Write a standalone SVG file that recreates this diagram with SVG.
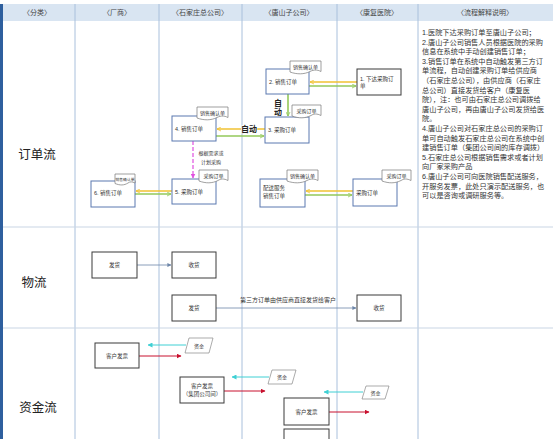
<svg xmlns="http://www.w3.org/2000/svg" xmlns:xlink="http://www.w3.org/1999/xlink" width="553" height="439" viewBox="0 0 553 439">
<style>
text{font-family:'Liberation Sans','Noto Sans CJK SC',sans-serif;fill:#333}
.hd{font-size:7px;text-anchor:middle;fill:#444}
.row{font-size:12.5px;text-anchor:middle;fill:#222}
.bx{fill:#fff;stroke:#5a78b0;stroke-width:1}
.bk{fill:#fff;stroke:#3a3a3a;stroke-width:1}
.tag{fill:#fff;stroke:#777;stroke-width:0.7}
.t{font-size:5.5px}
.tg{font-size:5px}
.c{text-anchor:middle}
.ex{font-size:7.2px;fill:#333}
.lane{stroke:#a9c0dc;stroke-width:1}
.hl{stroke:#c9d5e4;stroke-width:1}
.yl{stroke:#f1c232;stroke-width:1.6;fill:none}
.gr{stroke:#93c95a;stroke-width:1.6;fill:none}
.pk{stroke:#e050e0;stroke-width:1.2;stroke-dasharray:4 2;fill:none}
.lg{stroke:#6d86a8;stroke-width:0.8;fill:none}
.rd{stroke:#c8102e;stroke-width:1;fill:none}
.cy{stroke:#3fd0d4;stroke-width:1;fill:none}
.au{font-size:8px;font-weight:bold;fill:#222}
.para{fill:#fff;stroke:#888;stroke-width:0.7}
</style>
<defs>
<marker id="aY" viewBox="0 0 10 10" refX="9" refY="5" markerWidth="5" markerHeight="5" orient="auto-start-reverse" markerUnits="userSpaceOnUse"><path d="M1,1 L9,5 L1,9" fill="none" stroke="#f1c232" stroke-width="1.6"/></marker>
<marker id="aG" viewBox="0 0 10 10" refX="9" refY="5" markerWidth="5" markerHeight="5" orient="auto-start-reverse" markerUnits="userSpaceOnUse"><path d="M1,1 L9,5 L1,9" fill="none" stroke="#93c95a" stroke-width="1.6"/></marker>
<marker id="aP" viewBox="0 0 10 10" refX="9" refY="5" markerWidth="5" markerHeight="5" orient="auto" markerUnits="userSpaceOnUse"><path d="M0,0 L10,5 L0,10 Z" fill="#e050e0"/></marker>
<marker id="aL" viewBox="0 0 10 10" refX="9" refY="5" markerWidth="4" markerHeight="4" orient="auto" markerUnits="userSpaceOnUse"><path d="M0,0 L10,5 L0,10 Z" fill="#6d86a8"/></marker>
<marker id="aR" viewBox="0 0 10 10" refX="9" refY="5" markerWidth="5" markerHeight="5" orient="auto" markerUnits="userSpaceOnUse"><path d="M0,0 L10,5 L0,10 Z" fill="#c8102e"/></marker>
<marker id="aC" viewBox="0 0 10 10" refX="9" refY="5" markerWidth="5" markerHeight="5" orient="auto" markerUnits="userSpaceOnUse"><path d="M0,0 L10,5 L0,10 Z" fill="#3fd0d4"/></marker>
<path id="docW" d="M0,0 H31 V10.5 C27,8.5 24,8.5 20,10.5 C14,13.5 7,13.5 0,11 Z"/>
<path id="docN" d="M0,0 H29 V10.5 C25,8.5 22,8.5 19,10.5 C13,13.5 7,13.5 0,11 Z"/>
<path id="docS" d="M0,0 H20 V9 C17,7.5 15,7.5 13,9 C9,11.5 5,11.5 0,9.5 Z"/>
</defs>
<rect x="0" y="0" width="553" height="439" fill="#fff"/>
<g id="frame">
<rect x="0" y="4" width="553" height="17" fill="#d9e5f2"/>
<rect x="0" y="4" width="3" height="435" fill="#2e5f9e"/>
<g class="lane">
<line x1="75" y1="4" x2="75" y2="439"/>
<line x1="159" y1="4" x2="159" y2="439"/>
<line x1="242" y1="4" x2="242" y2="439"/>
<line x1="337" y1="4" x2="337" y2="439"/>
<line x1="418" y1="4" x2="418" y2="439"/>
</g>
<g class="hl">
<line x1="3" y1="227" x2="553" y2="227"/>
<line x1="3" y1="328" x2="553" y2="328"/>
</g>
<text class="hd" x="37" y="15">〈分类〉</text>
<text class="hd" x="117" y="15">〈厂商〉</text>
<text class="hd" x="200" y="15">〈石家庄总公司〉</text>
<text class="hd" x="289" y="15">〈唐山子公司〉</text>
<text class="hd" x="377" y="15">〈康复医院〉</text>
<text class="hd" x="485" y="15">〈流程解释说明〉</text>
<text class="row" x="37" y="159">订单流</text>
<text class="row" x="34" y="287">物流</text>
<text class="row" x="38" y="412">资金流</text>
</g>
<g id="connectors">
<line class="yl" x1="357" y1="82" x2="310" y2="82" marker-end="url(#aY)"/>
<line class="gr" x1="309" y1="86" x2="356" y2="86" marker-end="url(#aG)"/>
<line class="gr" x1="288" y1="94" x2="288" y2="116" marker-end="url(#aG)"/>
<line class="yl" x1="265" y1="129" x2="217" y2="129" marker-end="url(#aY)"/>
<line class="gr" x1="216" y1="136" x2="264" y2="136" marker-end="url(#aG)"/>
<line class="pk" x1="193" y1="141" x2="193" y2="178" marker-end="url(#aP)"/>
<line class="yl" x1="172" y1="191" x2="136" y2="191" marker-end="url(#aY)"/>
<line class="gr" x1="135" y1="194" x2="171" y2="194" marker-end="url(#aG)"/>
<line class="yl" x1="353" y1="191" x2="306" y2="191" marker-end="url(#aY)"/>
<line class="gr" x1="305" y1="195" x2="352" y2="195" marker-end="url(#aG)"/>
<text class="au" x="278" y="106" text-anchor="middle">自</text>
<text class="au" x="278" y="115" text-anchor="middle">动</text>
<text class="au" x="249" y="132" text-anchor="middle" stroke="#fff" stroke-width="1.5" paint-order="stroke">自动</text>
<text class="tg" x="211" y="155" text-anchor="middle">根据需求或</text>
<text class="tg" x="211" y="164" text-anchor="middle">计划采购</text>
<line class="lg" x1="137" y1="265" x2="171" y2="265" marker-end="url(#aL)"/>
<line class="lg" x1="216" y1="308" x2="356" y2="308" marker-end="url(#aL)"/>
<text x="288" y="302" font-size="6px" text-anchor="middle">第三方订单由供应商直接发货给客户</text>
<line class="rd" x1="139" y1="356" x2="181" y2="356" marker-end="url(#aR)"/>
<line class="cy" x1="186" y1="345" x2="148" y2="345" marker-end="url(#aC)"/>
<line class="rd" x1="224" y1="391" x2="265" y2="391" marker-end="url(#aR)"/>
<line class="cy" x1="269" y1="377" x2="232" y2="377" marker-end="url(#aC)"/>
<line class="rd" x1="329" y1="412" x2="369" y2="412" marker-end="url(#aR)"/>
<line class="cy" x1="363" y1="392" x2="324" y2="392" marker-end="url(#aC)"/>
</g>
<g id="n1"><rect class="bk" x="357" y="69" width="44" height="26"/><text class="t" x="360" y="81">1. 下达采购订</text><text class="t" x="360" y="88">单</text></g>
<g id="n2"><rect class="bx" x="266" y="69" width="43" height="25"/><text class="t" x="269" y="84">2. 销售订单</text><use xlink:href="#docW" class="tag" x="290" y="61"/><text class="tg" x="305.5" y="68.5" text-anchor="middle">销售确认单</text></g>
<g id="n3"><rect class="bx" x="265" y="117" width="44" height="26"/><text class="t" x="268" y="132">3. 采购订单</text><use xlink:href="#docN" class="tag" x="292" y="105"/><text class="tg" x="306.5" y="112.5" text-anchor="middle">采购订单</text></g>
<g id="n4"><rect class="bx" x="172" y="116" width="44" height="25"/><text class="t" x="175" y="131">4. 销售订单</text><use xlink:href="#docW" class="tag" x="197" y="107"/><text class="tg" x="212.5" y="114.5" text-anchor="middle">销售确认单</text></g>
<g id="n5"><rect class="bx" x="172" y="179" width="44" height="25"/><text class="t" x="175" y="194">5. 采购订单</text><use xlink:href="#docN" class="tag" x="199" y="170"/><text class="tg" x="213.5" y="177.5" text-anchor="middle">采购订单</text></g>
<g id="n6"><rect class="bx" x="91" y="181" width="44" height="26"/><text class="t" x="94" y="195">6. 销售订单</text><use xlink:href="#docS" class="tag" x="115" y="174"/><text x="125" y="180.5" font-size="3.8px" text-anchor="middle">销售确认单</text></g>
<g id="n7"><rect class="bx" x="260" y="179" width="45" height="28"/><text class="t" x="263" y="190">配送服务</text><text class="t" x="263" y="198">销售订单</text><use xlink:href="#docW" class="tag" x="287" y="170"/><text class="tg" x="302.5" y="177.5" text-anchor="middle">销售确认单</text></g>
<g id="n8"><rect class="bx" x="353" y="179" width="44" height="27"/><text class="t" x="356" y="195">采购订单</text><use xlink:href="#docN" class="tag" x="382" y="170"/><text class="tg" x="396.5" y="177.5" text-anchor="middle">采购订单</text></g>
<g id="l1"><rect class="bk" x="92" y="252" width="45" height="26"/><text class="t c" x="114.5" y="267">发货</text></g>
<g id="l2"><rect class="bk" x="172" y="252" width="44" height="26"/><text class="t c" x="194" y="267">收货</text></g>
<g id="l3"><rect class="bk" x="172" y="295" width="44" height="26"/><text class="t c" x="194" y="310">发货</text></g>
<g id="l4"><rect class="bk" x="357" y="295" width="44" height="26"/><text class="t c" x="379" y="310">收货</text></g>
<g id="f1"><rect class="bk" x="95" y="343" width="44" height="25"/><text class="t c" x="117" y="357.5">客户发票</text></g>
<g id="f2"><polygon class="para" points="189,338 213,338 209,353 185,353"/><text class="tg c" x="199" y="347.5">资金</text></g>
<g id="f3"><rect class="bk" x="180" y="377" width="44" height="26"/><text class="t c" x="202" y="388">客户发票</text><text class="t c" x="202" y="396">（集团公司间）</text></g>
<g id="f4"><polygon class="para" points="272,370 296,370 292,384 268,384"/><text class="tg c" x="282" y="379">资金</text></g>
<g id="f5"><rect class="bk" x="284" y="398" width="45" height="27"/><text class="t c" x="306.5" y="413.5">客户发票</text></g>
<g id="f6"><polygon class="para" points="366,386 389,386 385,399 362,399"/><text class="tg c" x="375.5" y="394.5">资金</text></g>
<g id="f7"><rect class="bk" x="284" y="429" width="45" height="20"/></g>
<g id="notes" class="ex">
<text class="ex" x="422" y="35">1.医院下达采购订单至唐山子公司；</text>
<text class="ex" x="422" y="44.6">2.唐山子公司销售人员根据医院的采购</text>
<text class="ex" x="422" y="54.2">信息在系统中手动创建销售订单；</text>
<text class="ex" x="422" y="63.8">3.销售订单在系统中自动触发第三方订</text>
<text class="ex" x="422" y="73.4">单流程，自动创建采购订单给供应商</text>
<text class="ex" x="422" y="83">（石家庄总公司），由供应商（石家庄</text>
<text class="ex" x="422" y="92.6">总公司）直接发货给客户（康复医</text>
<text class="ex" x="422" y="102.2">院），注：也可由石家庄总公司调拨给</text>
<text class="ex" x="422" y="111.8">唐山子公司，再由唐山子公司发货给医</text>
<text class="ex" x="422" y="121.4">院。</text>
<text class="ex" x="422" y="131">4.唐山子公司对石家庄总公司的采购订</text>
<text class="ex" x="422" y="140.6">单可自动触发石家庄总公司在系统中创</text>
<text class="ex" x="422" y="150.2">建销售订单（集团公司间的库存调拨）</text>
<text class="ex" x="422" y="159.8">5.石家庄总公司根据销售需求或者计划</text>
<text class="ex" x="422" y="169.4">向厂家采购产品</text>
<text class="ex" x="422" y="179">6.唐山子公司可向医院销售配送服务，</text>
<text class="ex" x="422" y="188.6">开服务发票，此处只演示配送服务，也</text>
<text class="ex" x="422" y="198.2">可以是咨询或调研服务等。</text>
</g>
</svg>
